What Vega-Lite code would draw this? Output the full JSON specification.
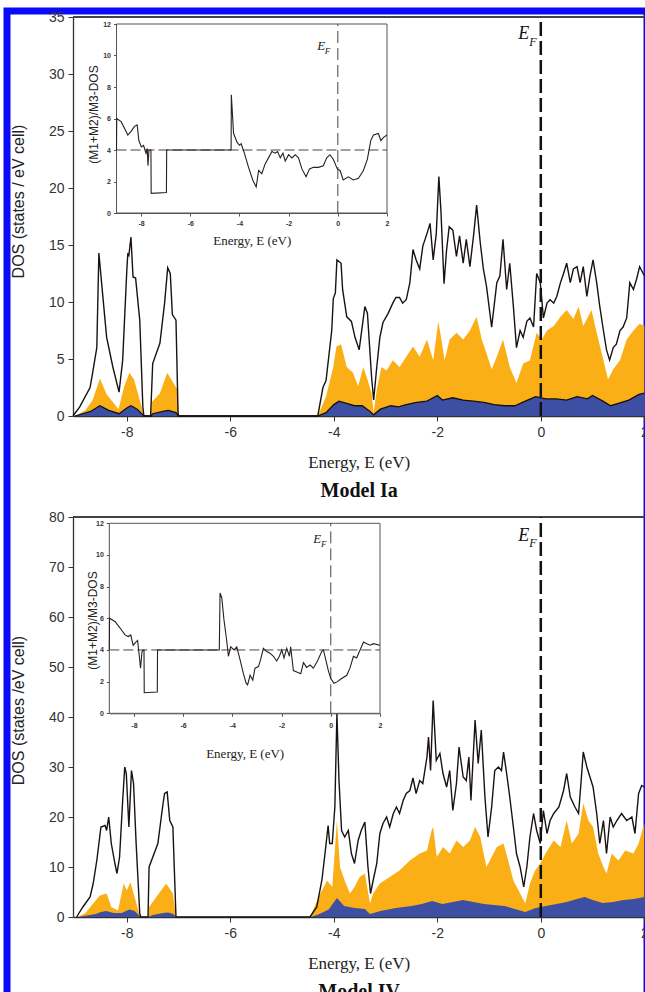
{
"$schema": "https://vega.github.io/schema/vega-lite/v6.json",
"width": 640, "height": 985,
"autosize": {"type": "none"},
"padding": {"left": 7, "top": 11, "right": -2, "bottom": -4},
"background": "white",
"config": {"view": {"stroke": "#0a0af5", "strokeWidth": 7}, "axis": {"grid": false, "domainColor": "#333", "tickColor": "#333", "labelColor": "#333", "titleColor": "#222", "labelFlush": false, "format": "d", "labelExpr": "replace(datum.label, '−', '-')"}},
"datasets": {
"topTot": [{"E":-9.04,"v":0},{"E":-8.91,"v":0.8},{"E":-8.71,"v":2.5},{"E":-8.66,"v":3.8},{"E":-8.58,"v":6.0},{"E":-8.54,"v":14.3},{"E":-8.48,"v":11.3},{"E":-8.39,"v":6.9},{"E":-8.27,"v":4.3},{"E":-8.15,"v":2.1},{"E":-8.08,"v":4.9},{"E":-8.0,"v":12.8},{"E":-7.98,"v":14.3},{"E":-7.96,"v":14.1},{"E":-7.92,"v":15.7},{"E":-7.88,"v":12.2},{"E":-7.83,"v":12.1},{"E":-7.75,"v":8.4},{"E":-7.69,"v":0.8},{"E":-7.67,"v":0},{"E":-7.54,"v":0},{"E":-7.5,"v":4.6},{"E":-7.36,"v":6.4},{"E":-7.27,"v":9.9},{"E":-7.21,"v":13.0},{"E":-7.16,"v":12.5},{"E":-7.12,"v":8.9},{"E":-7.05,"v":8.4},{"E":-7.01,"v":0.3},{"E":-7.0,"v":0},{"E":-4.31,"v":0},{"E":-4.21,"v":2.5},{"E":-4.15,"v":3.1},{"E":-4.04,"v":7.5},{"E":-4.01,"v":10.3},{"E":-3.97,"v":10.8},{"E":-3.94,"v":13.7},{"E":-3.86,"v":13.4},{"E":-3.83,"v":11.1},{"E":-3.75,"v":8.7},{"E":-3.66,"v":8.3},{"E":-3.59,"v":6.9},{"E":-3.51,"v":5.8},{"E":-3.4,"v":9.6},{"E":-3.35,"v":9.0},{"E":-3.27,"v":3.4},{"E":-3.23,"v":1.4},{"E":-3.17,"v":4.3},{"E":-3.11,"v":6.9},{"E":-3.05,"v":8.2},{"E":-2.95,"v":9.0},{"E":-2.86,"v":9.9},{"E":-2.8,"v":10.4},{"E":-2.73,"v":10.4},{"E":-2.67,"v":9.9},{"E":-2.6,"v":10.2},{"E":-2.53,"v":11.7},{"E":-2.47,"v":14.6},{"E":-2.41,"v":13.7},{"E":-2.34,"v":12.9},{"E":-2.28,"v":14.9},{"E":-2.2,"v":16.0},{"E":-2.14,"v":16.9},{"E":-2.08,"v":13.7},{"E":-2.02,"v":16.0},{"E":-1.97,"v":21.0},{"E":-1.93,"v":18.0},{"E":-1.87,"v":11.6},{"E":-1.82,"v":14.6},{"E":-1.77,"v":16.6},{"E":-1.7,"v":16.3},{"E":-1.63,"v":14.0},{"E":-1.57,"v":15.8},{"E":-1.5,"v":13.4},{"E":-1.44,"v":15.5},{"E":-1.37,"v":13.1},{"E":-1.3,"v":15.8},{"E":-1.24,"v":18.5},{"E":-1.17,"v":15.2},{"E":-1.11,"v":12.9},{"E":-1.05,"v":11.4},{"E":-0.95,"v":7.8},{"E":-0.85,"v":11.7},{"E":-0.79,"v":12.3},{"E":-0.73,"v":15.5},{"E":-0.66,"v":11.1},{"E":-0.6,"v":13.4},{"E":-0.53,"v":9.6},{"E":-0.47,"v":6.0},{"E":-0.4,"v":7.5},{"E":-0.34,"v":6.9},{"E":-0.27,"v":8.3},{"E":-0.21,"v":8.6},{"E":-0.14,"v":7.8},{"E":-0.08,"v":12.5},{"E":-0.01,"v":11.7},{"E":0.05,"v":8.6},{"E":0.12,"v":9.9},{"E":0.18,"v":10.2},{"E":0.25,"v":9.9},{"E":0.31,"v":10.5},{"E":0.38,"v":11.7},{"E":0.44,"v":12.5},{"E":0.5,"v":13.4},{"E":0.57,"v":11.7},{"E":0.63,"v":12.9},{"E":0.7,"v":13.1},{"E":0.76,"v":11.7},{"E":0.82,"v":13.1},{"E":0.89,"v":10.5},{"E":0.95,"v":12.3},{"E":1.01,"v":13.7},{"E":1.08,"v":11.7},{"E":1.14,"v":9.6},{"E":1.21,"v":7.5},{"E":1.27,"v":5.8},{"E":1.33,"v":4.9},{"E":1.4,"v":6.0},{"E":1.46,"v":6.3},{"E":1.53,"v":7.5},{"E":1.59,"v":7.8},{"E":1.66,"v":8.6},{"E":1.72,"v":11.7},{"E":1.79,"v":11.1},{"E":1.85,"v":12.0},{"E":1.91,"v":13.1},{"E":2.0,"v":12.3}],
"topOrg": [{"E":-9.0,"v":0},{"E":-8.8,"v":0.5},{"E":-8.66,"v":1.4},{"E":-8.52,"v":3.3},{"E":-8.39,"v":1.9},{"E":-8.16,"v":0.6},{"E":-8.05,"v":2.6},{"E":-7.95,"v":3.8},{"E":-7.86,"v":3.2},{"E":-7.72,"v":0.9},{"E":-7.67,"v":0},{"E":-7.54,"v":0},{"E":-7.52,"v":1.2},{"E":-7.36,"v":2.0},{"E":-7.22,"v":3.8},{"E":-7.1,"v":2.9},{"E":-7.02,"v":2.3},{"E":-7.0,"v":0},{"E":-4.31,"v":0},{"E":-4.15,"v":1.7},{"E":-4.01,"v":4.3},{"E":-3.95,"v":6.1},{"E":-3.86,"v":6.3},{"E":-3.75,"v":4.3},{"E":-3.63,"v":3.8},{"E":-3.53,"v":2.6},{"E":-3.43,"v":4.3},{"E":-3.37,"v":3.5},{"E":-3.27,"v":2.0},{"E":-3.23,"v":0.3},{"E":-3.17,"v":2.3},{"E":-3.08,"v":4.3},{"E":-2.98,"v":4.0},{"E":-2.86,"v":4.9},{"E":-2.73,"v":4.3},{"E":-2.6,"v":5.2},{"E":-2.47,"v":6.1},{"E":-2.34,"v":5.2},{"E":-2.2,"v":6.7},{"E":-2.08,"v":4.9},{"E":-1.98,"v":8.3},{"E":-1.92,"v":6.7},{"E":-1.86,"v":4.9},{"E":-1.76,"v":6.7},{"E":-1.63,"v":7.3},{"E":-1.5,"v":6.7},{"E":-1.37,"v":7.5},{"E":-1.24,"v":8.7},{"E":-1.14,"v":6.7},{"E":-1.05,"v":5.5},{"E":-0.95,"v":4.1},{"E":-0.85,"v":5.2},{"E":-0.73,"v":6.7},{"E":-0.6,"v":4.3},{"E":-0.47,"v":2.9},{"E":-0.34,"v":4.6},{"E":-0.21,"v":4.9},{"E":-0.08,"v":7.3},{"E":0.02,"v":6.7},{"E":0.12,"v":7.5},{"E":0.25,"v":7.9},{"E":0.38,"v":8.7},{"E":0.5,"v":9.3},{"E":0.63,"v":8.5},{"E":0.73,"v":9.6},{"E":0.82,"v":7.9},{"E":0.98,"v":9.3},{"E":1.08,"v":7.3},{"E":1.21,"v":4.9},{"E":1.3,"v":3.2},{"E":1.4,"v":4.1},{"E":1.53,"v":4.9},{"E":1.66,"v":6.7},{"E":1.79,"v":7.5},{"E":1.91,"v":8.1},{"E":2.0,"v":7.9}],
"topBlu": [{"E":-9.0,"v":0},{"E":-8.7,"v":0.4},{"E":-8.52,"v":0.9},{"E":-8.35,"v":0.5},{"E":-8.15,"v":0.2},{"E":-8.0,"v":0.7},{"E":-7.92,"v":0.9},{"E":-7.8,"v":0.6},{"E":-7.69,"v":0.1},{"E":-7.67,"v":0},{"E":-7.54,"v":0},{"E":-7.5,"v":0.2},{"E":-7.3,"v":0.4},{"E":-7.2,"v":0.5},{"E":-7.05,"v":0.3},{"E":-7.0,"v":0},{"E":-4.31,"v":0},{"E":-4.15,"v":0.3},{"E":-4.0,"v":1.0},{"E":-3.9,"v":1.3},{"E":-3.75,"v":1.1},{"E":-3.6,"v":0.9},{"E":-3.45,"v":0.9},{"E":-3.3,"v":0.4},{"E":-3.23,"v":0.1},{"E":-3.1,"v":0.6},{"E":-2.9,"v":0.9},{"E":-2.75,"v":0.8},{"E":-2.6,"v":1.0},{"E":-2.4,"v":1.2},{"E":-2.2,"v":1.3},{"E":-2.0,"v":1.8},{"E":-1.9,"v":1.4},{"E":-1.7,"v":1.6},{"E":-1.5,"v":1.4},{"E":-1.3,"v":1.3},{"E":-1.1,"v":1.2},{"E":-0.9,"v":1.0},{"E":-0.7,"v":0.9},{"E":-0.5,"v":0.9},{"E":-0.3,"v":1.3},{"E":-0.1,"v":1.7},{"E":0.1,"v":1.5},{"E":0.3,"v":1.5},{"E":0.5,"v":1.4},{"E":0.7,"v":1.7},{"E":0.9,"v":1.5},{"E":1.0,"v":1.8},{"E":1.2,"v":1.3},{"E":1.35,"v":0.9},{"E":1.5,"v":1.1},{"E":1.7,"v":1.4},{"E":1.9,"v":1.9},{"E":2.0,"v":2.0}],
"topRatio": [{"E":-9,"v":4},{"E":-8.99,"v":6.0},{"E":-8.81,"v":5.8},{"E":-8.54,"v":4.95},{"E":-8.4,"v":5.2},{"E":-8.27,"v":5.5},{"E":-8.16,"v":5.6},{"E":-8.09,"v":4.6},{"E":-7.99,"v":4.2},{"E":-7.9,"v":4.3},{"E":-7.8,"v":3.8},{"E":-7.75,"v":4.1},{"E":-7.72,"v":3.0},{"E":-7.68,"v":4.0},{"E":-7.6,"v":4.0},{"E":-7.59,"v":1.25},{"E":-6.97,"v":1.3},{"E":-6.96,"v":4},{"E":-4.34,"v":4},{"E":-4.33,"v":7.5},{"E":-4.24,"v":5.06},{"E":-4.1,"v":4.5},{"E":-4.0,"v":4.3},{"E":-3.93,"v":4.4},{"E":-3.8,"v":3.8},{"E":-3.63,"v":2.9},{"E":-3.46,"v":2.1},{"E":-3.32,"v":1.65},{"E":-3.22,"v":2.7},{"E":-3.09,"v":2.5},{"E":-2.96,"v":3.1},{"E":-2.82,"v":3.5},{"E":-2.68,"v":3.9},{"E":-2.55,"v":3.8},{"E":-2.45,"v":3.9},{"E":-2.34,"v":3.5},{"E":-2.23,"v":3.8},{"E":-2.14,"v":3.3},{"E":-2.0,"v":3.7},{"E":-1.87,"v":3.5},{"E":-1.73,"v":3.7},{"E":-1.6,"v":3.5},{"E":-1.46,"v":2.8},{"E":-1.29,"v":2.3},{"E":-1.15,"v":2.8},{"E":-0.99,"v":2.9},{"E":-0.79,"v":2.9},{"E":-0.59,"v":3.0},{"E":-0.45,"v":3.5},{"E":-0.32,"v":3.7},{"E":-0.18,"v":3.4},{"E":-0.02,"v":2.8},{"E":0.09,"v":2.7},{"E":0.22,"v":2.1},{"E":0.43,"v":2.3},{"E":0.63,"v":2.1},{"E":0.84,"v":2.2},{"E":1.04,"v":2.7},{"E":1.2,"v":3.4},{"E":1.34,"v":4.6},{"E":1.45,"v":4.95},{"E":1.65,"v":5.05},{"E":1.75,"v":4.6},{"E":1.86,"v":4.8},{"E":2.0,"v":4.95}],
"botTot": [{"E":-8.97,"v":0},{"E":-8.85,"v":2},{"E":-8.71,"v":4},{"E":-8.65,"v":6.7},{"E":-8.58,"v":11.3},{"E":-8.5,"v":18},{"E":-8.42,"v":18.3},{"E":-8.39,"v":17.3},{"E":-8.35,"v":20},{"E":-8.3,"v":14.7},{"E":-8.23,"v":10.7},{"E":-8.19,"v":8.7},{"E":-8.14,"v":12},{"E":-8.08,"v":23.3},{"E":-8.04,"v":30},{"E":-8.01,"v":28.7},{"E":-7.96,"v":18},{"E":-7.91,"v":29.3},{"E":-7.87,"v":26.7},{"E":-7.82,"v":14.7},{"E":-7.75,"v":0.7},{"E":-7.73,"v":0},{"E":-7.59,"v":0},{"E":-7.57,"v":10},{"E":-7.4,"v":14.7},{"E":-7.3,"v":22.7},{"E":-7.27,"v":24.7},{"E":-7.22,"v":25},{"E":-7.17,"v":19.3},{"E":-7.11,"v":18},{"E":-7.05,"v":0},{"E":-4.46,"v":0},{"E":-4.33,"v":2},{"E":-4.23,"v":7.4},{"E":-4.17,"v":12.7},{"E":-4.11,"v":18.3},{"E":-4.08,"v":14.7},{"E":-4.03,"v":14.7},{"E":-3.98,"v":22},{"E":-3.94,"v":40.7},{"E":-3.9,"v":27.3},{"E":-3.85,"v":17.3},{"E":-3.79,"v":16.0},{"E":-3.72,"v":17.3},{"E":-3.66,"v":12.7},{"E":-3.6,"v":10.7},{"E":-3.53,"v":15.3},{"E":-3.47,"v":17.3},{"E":-3.4,"v":19.0},{"E":-3.34,"v":10},{"E":-3.29,"v":4.7},{"E":-3.24,"v":7.3},{"E":-3.17,"v":10.7},{"E":-3.11,"v":16.7},{"E":-3.05,"v":18.7},{"E":-2.98,"v":20},{"E":-2.92,"v":18},{"E":-2.85,"v":20.7},{"E":-2.79,"v":22},{"E":-2.73,"v":20.7},{"E":-2.66,"v":23.3},{"E":-2.6,"v":24.7},{"E":-2.53,"v":25.3},{"E":-2.47,"v":27.8},{"E":-2.41,"v":24.7},{"E":-2.34,"v":27.3},{"E":-2.28,"v":26.7},{"E":-2.2,"v":32},{"E":-2.17,"v":36},{"E":-2.13,"v":29.3},{"E":-2.08,"v":43.3},{"E":-2.02,"v":31.3},{"E":-1.95,"v":32.7},{"E":-1.89,"v":28.7},{"E":-1.82,"v":26},{"E":-1.76,"v":29.3},{"E":-1.7,"v":21.3},{"E":-1.63,"v":26.7},{"E":-1.58,"v":34},{"E":-1.5,"v":28},{"E":-1.44,"v":27.3},{"E":-1.39,"v":32},{"E":-1.35,"v":23.3},{"E":-1.27,"v":39.4},{"E":-1.21,"v":30.7},{"E":-1.15,"v":37.4},{"E":-1.08,"v":24},{"E":-1.02,"v":16},{"E":-0.95,"v":22},{"E":-0.89,"v":29.3},{"E":-0.82,"v":30},{"E":-0.76,"v":29.3},{"E":-0.72,"v":33},{"E":-0.66,"v":28.7},{"E":-0.6,"v":24},{"E":-0.53,"v":18},{"E":-0.47,"v":12.7},{"E":-0.4,"v":10},{"E":-0.33,"v":6},{"E":-0.27,"v":10},{"E":-0.21,"v":16},{"E":-0.14,"v":20.7},{"E":-0.08,"v":17.3},{"E":-0.01,"v":14.7},{"E":0.05,"v":21.3},{"E":0.12,"v":16.7},{"E":0.18,"v":19.3},{"E":0.25,"v":20.7},{"E":0.35,"v":22},{"E":0.44,"v":25.3},{"E":0.5,"v":28.7},{"E":0.57,"v":24},{"E":0.66,"v":22},{"E":0.73,"v":20.7},{"E":0.78,"v":27.3},{"E":0.82,"v":33},{"E":0.89,"v":30},{"E":0.95,"v":28},{"E":1.01,"v":26},{"E":1.08,"v":20.7},{"E":1.14,"v":14.7},{"E":1.21,"v":19.3},{"E":1.27,"v":12.7},{"E":1.34,"v":20},{"E":1.4,"v":18},{"E":1.47,"v":19.3},{"E":1.56,"v":20.7},{"E":1.66,"v":19.3},{"E":1.76,"v":20},{"E":1.82,"v":16.7},{"E":1.89,"v":24.7},{"E":1.95,"v":26.3},{"E":2.0,"v":26}],
"botOrg": [{"E":-8.95,"v":0},{"E":-8.8,"v":0.8},{"E":-8.65,"v":2.7},{"E":-8.52,"v":4.3},{"E":-8.39,"v":4.7},{"E":-8.3,"v":2},{"E":-8.17,"v":1.3},{"E":-8.06,"v":6.7},{"E":-8.0,"v":5.3},{"E":-7.93,"v":7.0},{"E":-7.85,"v":4},{"E":-7.75,"v":0.3},{"E":-7.73,"v":0},{"E":-7.59,"v":0},{"E":-7.57,"v":2},{"E":-7.43,"v":4},{"E":-7.24,"v":6.7},{"E":-7.11,"v":4.7},{"E":-7.05,"v":0},{"E":-4.46,"v":0},{"E":-4.26,"v":4.7},{"E":-4.13,"v":7.3},{"E":-4.03,"v":6},{"E":-3.94,"v":19.3},{"E":-3.88,"v":10},{"E":-3.79,"v":7.3},{"E":-3.69,"v":4.7},{"E":-3.6,"v":6},{"E":-3.5,"v":8},{"E":-3.4,"v":8.7},{"E":-3.3,"v":2.7},{"E":-3.24,"v":4.7},{"E":-3.11,"v":6.7},{"E":-2.92,"v":8},{"E":-2.73,"v":9.3},{"E":-2.53,"v":11.3},{"E":-2.34,"v":12.7},{"E":-2.2,"v":13.3},{"E":-2.11,"v":17.3},{"E":-2.08,"v":18},{"E":-2.01,"v":12},{"E":-1.89,"v":14},{"E":-1.76,"v":12.7},{"E":-1.63,"v":15.3},{"E":-1.5,"v":14},{"E":-1.37,"v":15.3},{"E":-1.27,"v":18},{"E":-1.17,"v":16},{"E":-1.05,"v":10},{"E":-0.95,"v":12},{"E":-0.85,"v":14},{"E":-0.72,"v":14.7},{"E":-0.63,"v":11.3},{"E":-0.53,"v":7.3},{"E":-0.4,"v":4.7},{"E":-0.3,"v":2.7},{"E":-0.21,"v":6.7},{"E":-0.11,"v":9.3},{"E":-0.01,"v":10.7},{"E":0.09,"v":12.7},{"E":0.25,"v":15.3},{"E":0.38,"v":14},{"E":0.5,"v":19.3},{"E":0.6,"v":14.7},{"E":0.73,"v":16.7},{"E":0.82,"v":22.7},{"E":0.92,"v":19.3},{"E":1.01,"v":18},{"E":1.11,"v":12.7},{"E":1.21,"v":10},{"E":1.27,"v":8.7},{"E":1.37,"v":12.7},{"E":1.5,"v":11.3},{"E":1.63,"v":13.3},{"E":1.79,"v":12.7},{"E":1.89,"v":14.7},{"E":2.0,"v":18.7}],
"botBlu": [{"E":-8.95,"v":0},{"E":-8.6,"v":0.6},{"E":-8.5,"v":1.0},{"E":-8.4,"v":1.2},{"E":-8.25,"v":0.8},{"E":-8.1,"v":0.8},{"E":-7.95,"v":1.5},{"E":-7.85,"v":1.2},{"E":-7.75,"v":0.2},{"E":-7.73,"v":0},{"E":-7.59,"v":0},{"E":-7.5,"v":0.4},{"E":-7.3,"v":0.8},{"E":-7.2,"v":0.9},{"E":-7.1,"v":0.6},{"E":-7.05,"v":0},{"E":-4.46,"v":0},{"E":-4.3,"v":0.5},{"E":-4.1,"v":1.5},{"E":-3.94,"v":3.8},{"E":-3.8,"v":2.2},{"E":-3.6,"v":1.8},{"E":-3.4,"v":1.6},{"E":-3.3,"v":0.6},{"E":-3.1,"v":1.2},{"E":-2.8,"v":1.8},{"E":-2.5,"v":2.2},{"E":-2.3,"v":2.6},{"E":-2.1,"v":3.2},{"E":-1.9,"v":2.6},{"E":-1.7,"v":3.0},{"E":-1.5,"v":3.4},{"E":-1.3,"v":3.0},{"E":-1.1,"v":2.6},{"E":-0.9,"v":2.4},{"E":-0.7,"v":2.2},{"E":-0.5,"v":1.6},{"E":-0.3,"v":1.0},{"E":-0.1,"v":1.8},{"E":0.1,"v":2.2},{"E":0.3,"v":2.6},{"E":0.5,"v":3.0},{"E":0.7,"v":3.6},{"E":0.85,"v":4.0},{"E":1.0,"v":3.4},{"E":1.2,"v":2.8},{"E":1.4,"v":3.0},{"E":1.6,"v":3.4},{"E":1.8,"v":3.6},{"E":2.0,"v":4.0}],
"botRatio": [{"E":-9,"v":4},{"E":-8.99,"v":6.0},{"E":-8.77,"v":5.8},{"E":-8.57,"v":5.4},{"E":-8.36,"v":4.95},{"E":-8.23,"v":4.85},{"E":-8.13,"v":4.95},{"E":-8.03,"v":4.3},{"E":-7.92,"v":4.5},{"E":-7.85,"v":4.6},{"E":-7.78,"v":3.6},{"E":-7.73,"v":2.85},{"E":-7.67,"v":3.9},{"E":-7.62,"v":4.0},{"E":-7.59,"v":4.0},{"E":-7.58,"v":1.3},{"E":-7.05,"v":1.35},{"E":-7.04,"v":4},{"E":-4.53,"v":4},{"E":-4.5,"v":7.6},{"E":-4.43,"v":7.3},{"E":-4.34,"v":5.9},{"E":-4.23,"v":4.6},{"E":-4.16,"v":3.6},{"E":-4.07,"v":4.2},{"E":-3.93,"v":4.0},{"E":-3.82,"v":4.2},{"E":-3.69,"v":3.4},{"E":-3.55,"v":2.5},{"E":-3.44,"v":1.9},{"E":-3.38,"v":1.8},{"E":-3.28,"v":2.4},{"E":-3.17,"v":2.1},{"E":-3.08,"v":2.85},{"E":-2.94,"v":2.95},{"E":-2.85,"v":3.4},{"E":-2.74,"v":4.1},{"E":-2.6,"v":3.9},{"E":-2.47,"v":3.8},{"E":-2.33,"v":3.6},{"E":-2.2,"v":3.3},{"E":-2.09,"v":3.6},{"E":-1.99,"v":4.0},{"E":-1.9,"v":3.5},{"E":-1.79,"v":4.1},{"E":-1.68,"v":3.6},{"E":-1.63,"v":4.2},{"E":-1.52,"v":2.7},{"E":-1.36,"v":2.6},{"E":-1.22,"v":2.5},{"E":-1.11,"v":3.2},{"E":-0.98,"v":2.9},{"E":-0.84,"v":3.05},{"E":-0.71,"v":2.85},{"E":-0.54,"v":3.3},{"E":-0.37,"v":3.9},{"E":-0.3,"v":4.0},{"E":-0.19,"v":3.3},{"E":-0.1,"v":2.7},{"E":0.0,"v":2.2},{"E":0.13,"v":1.9},{"E":0.27,"v":2.0},{"E":0.44,"v":2.2},{"E":0.65,"v":2.4},{"E":0.78,"v":2.85},{"E":0.92,"v":3.6},{"E":1.05,"v":3.5},{"E":1.19,"v":4.0},{"E":1.33,"v":4.5},{"E":1.46,"v":4.4},{"E":1.6,"v":4.3},{"E":1.73,"v":4.4},{"E":2.0,"v":4.3}]
},
"layer": [
{"layer": [
 {"data": {"name": "topOrg"}, "mark": {"type": "area", "color": "#FBAF17", "opacity": 1},
  "encoding": {"x": {"field": "E", "type": "quantitative", "scale": {"domain": [-9.04, 2], "range": [66, 637.3], "nice": false, "zero": false},
    "axis": {"orient": "bottom", "offset": -580, "values": [-8,-6,-4,-2,0,2], "labelFont": "Liberation Sans", "labelFontSize": 14, "labelPadding": 4, "tickSize": 5, "domainWidth": 1.3, "title": "Energy, E (eV)", "titleFont": "Liberation Serif", "titleFontSize": 17, "titleFontWeight": "normal", "titleY": 46, "titleBaseline": "middle"}},
   "y": {"field": "v", "type": "quantitative", "scale": {"domain": [0, 35], "range": [405, 6], "nice": false},
    "axis": {"orient": "left", "offset": -66, "values": [0,5,10,15,20,25,30,35], "labelFont": "Liberation Sans", "labelFontSize": 14, "labelPadding": 4, "tickSize": 5, "domainWidth": 1.3, "title": "DOS (states / eV cell)", "titleFont": "Liberation Sans", "titleFontSize": 16, "titleFontWeight": "normal", "titleX": -55, "titleY": 190, "titleBaseline": "middle", "titleAngle": -90}}}},
 {"data": {"name": "topBlu"}, "mark": {"type": "area", "color": "#3D4FA3", "opacity": 1, "fillOpacity": 1, "line": {"color": "#111", "strokeWidth": 1.3}},
  "encoding": {"x": {"field": "E", "type": "quantitative"}, "y": {"field": "v", "type": "quantitative"}}},
 {"data": {"name": "topTot"}, "mark": {"type": "line", "color": "#1a1212", "strokeWidth": 1.4},
  "encoding": {"x": {"field": "E", "type": "quantitative"}, "y": {"field": "v", "type": "quantitative"}}},
 {"data": {"values": [{}]}, "mark": {"type": "rule", "color": "#444", "strokeWidth": 2},
  "encoding": {"x": {"datum": -9.04, "type": "quantitative"}, "x2": {"datum": 2}, "y": {"datum": 35, "type": "quantitative"}}}
]},
{"data": {"values": [{}]}, "layer": [
 {"mark": {"type": "rule", "color": "#111", "strokeWidth": 2.5, "strokeDash": [14, 5]},
  "encoding": {"x": {"datum": 0, "type": "quantitative", "scale": {"domain": [-9.04, 2], "range": [66, 637.3], "nice": false, "zero": false},
    "axis": {"orient": "bottom", "offset": -580, "domain": false, "ticks": false, "labels": false, "title": "Model Ia", "titleFont": "Liberation Serif", "titleFontSize": 20, "titleFontWeight": "bold", "titleColor": "#111", "titleY": 74, "titleBaseline": "middle"}},
   "y": {"datum": 0, "type": "quantitative", "scale": {"domain": [0, 35], "range": [405, 6], "nice": false}, "axis": null}, "y2": {"datum": 35}}},
 {"mark": {"type": "text", "text": "E", "font": "Liberation Serif", "fontStyle": "italic", "fontSize": 18, "align": "center", "baseline": "alphabetic", "color": "#111"},
  "encoding": {"x": {"datum": -0.33, "type": "quantitative"}, "y": {"datum": 33.1, "type": "quantitative"}}},
 {"mark": {"type": "text", "text": "F", "font": "Liberation Serif", "fontStyle": "italic", "fontSize": 12, "align": "center", "baseline": "alphabetic", "color": "#111"},
  "encoding": {"x": {"datum": -0.15, "type": "quantitative"}, "y": {"datum": 32.5, "type": "quantitative"}}}
]},
{"layer": [
 {"data": {"values": [{}]}, "mark": {"type": "rect", "fill": "white", "stroke": "#555", "strokeWidth": 1},
  "encoding": {"x": {"datum": -9, "type": "quantitative", "scale": {"domain": [-9, 2], "range": [109.5, 380], "nice": false, "zero": false},
    "axis": {"orient": "bottom", "offset": -783, "values": [-8,-6,-4,-2,0,2], "labelFont": "Liberation Sans", "labelFontSize": 7, "labelFontWeight": "bold", "labelPadding": 3, "tickSize": 3, "domainColor": "#555", "tickColor": "#555", "title": "Energy, E (eV)", "titleFont": "Liberation Serif", "titleFontSize": 13, "titleFontWeight": "normal", "titleY": 27, "titleBaseline": "middle"}},
   "x2": {"datum": 2},
   "y": {"datum": 0, "type": "quantitative", "scale": {"domain": [0, 12], "range": [202, 13], "nice": false},
    "axis": {"orient": "left", "offset": -109.5, "values": [0,2,4,6,8,10,12], "labelFont": "Liberation Sans", "labelFontSize": 7, "labelFontWeight": "bold", "labelPadding": 3, "tickSize": 3, "domainColor": "#555", "tickColor": "#555", "title": "(M1+M2)/M3-DOS", "titleFont": "Liberation Sans", "titleFontSize": 12, "titleFontWeight": "normal", "titleX": -23.5, "titleY": 103, "titleBaseline": "middle", "titleAngle": -90}},
   "y2": {"datum": 12}}},
 {"data": {"values": [{}]}, "mark": {"type": "rule", "color": "#444", "strokeWidth": 1, "strokeDash": [10, 4]},
  "encoding": {"x": {"datum": -9, "type": "quantitative"}, "x2": {"datum": 2}, "y": {"datum": 4, "type": "quantitative"}}},
 {"data": {"values": [{}]}, "mark": {"type": "rule", "color": "#444", "strokeWidth": 1, "strokeDash": [12, 5]},
  "encoding": {"x": {"datum": 0, "type": "quantitative"}, "y": {"datum": 0, "type": "quantitative"}, "y2": {"datum": 12}}},
 {"data": {"name": "topRatio"}, "mark": {"type": "line", "color": "#2a2020", "strokeWidth": 1.1},
  "encoding": {"x": {"field": "E", "type": "quantitative"}, "y": {"field": "v", "type": "quantitative"}}},
 {"data": {"values": [{}]}, "mark": {"type": "text", "text": "E", "font": "Liberation Serif", "fontStyle": "italic", "fontSize": 13, "align": "center", "baseline": "alphabetic", "color": "#222"},
  "encoding": {"x": {"datum": -0.68, "type": "quantitative"}, "y": {"datum": 10.35, "type": "quantitative"}}},
 {"data": {"values": [{}]}, "mark": {"type": "text", "text": "F", "font": "Liberation Serif", "fontStyle": "italic", "fontSize": 9, "align": "center", "baseline": "alphabetic", "color": "#222"},
  "encoding": {"x": {"datum": -0.42, "type": "quantitative"}, "y": {"datum": 10.1, "type": "quantitative"}}}
]},
{"layer": [
 {"data": {"name": "botOrg"}, "mark": {"type": "area", "color": "#FBAF17", "opacity": 1},
  "encoding": {"x": {"field": "E", "type": "quantitative", "scale": {"domain": [-9.04, 2], "range": [66, 637.3], "nice": false, "zero": false},
    "axis": {"orient": "bottom", "offset": -79, "values": [-8,-6,-4,-2,0,2], "labelFont": "Liberation Sans", "labelFontSize": 14, "labelPadding": 4, "tickSize": 5, "domainWidth": 1.3, "title": "Energy, E (eV)", "titleFont": "Liberation Serif", "titleFontSize": 17, "titleFontWeight": "normal", "titleY": 46, "titleBaseline": "middle"}},
   "y": {"field": "v", "type": "quantitative", "scale": {"domain": [0, 80], "range": [906, 506], "nice": false},
    "axis": {"orient": "left", "offset": -66, "values": [0,10,20,30,40,50,60,70,80], "labelFont": "Liberation Sans", "labelFontSize": 14, "labelPadding": 4, "tickSize": 5, "domainWidth": 1.3, "title": "DOS (states /eV cell)", "titleFont": "Liberation Sans", "titleFontSize": 16, "titleFontWeight": "normal", "titleX": -55, "titleY": 699, "titleBaseline": "middle", "titleAngle": -90}}}},
 {"data": {"name": "botBlu"}, "mark": {"type": "area", "color": "#3D4FA3", "opacity": 1},
  "encoding": {"x": {"field": "E", "type": "quantitative"}, "y": {"field": "v", "type": "quantitative"}}},
 {"data": {"name": "botTot"}, "mark": {"type": "line", "color": "#1a1212", "strokeWidth": 1.4},
  "encoding": {"x": {"field": "E", "type": "quantitative"}, "y": {"field": "v", "type": "quantitative"}}},
 {"data": {"values": [{}]}, "mark": {"type": "rule", "color": "#444", "strokeWidth": 2},
  "encoding": {"x": {"datum": -9.04, "type": "quantitative"}, "x2": {"datum": 2}, "y": {"datum": 80, "type": "quantitative"}}}
]},
{"data": {"values": [{}]}, "layer": [
 {"mark": {"type": "rule", "color": "#111", "strokeWidth": 2.5, "strokeDash": [14, 5]},
  "encoding": {"x": {"datum": 0, "type": "quantitative", "scale": {"domain": [-9.04, 2], "range": [66, 637.3], "nice": false, "zero": false},
    "axis": {"orient": "bottom", "offset": -79, "domain": false, "ticks": false, "labels": false, "title": "Model IV", "titleFont": "Liberation Serif", "titleFontSize": 20, "titleFontWeight": "bold", "titleColor": "#111", "titleY": 74, "titleBaseline": "middle"}},
   "y": {"datum": 0, "type": "quantitative", "scale": {"domain": [0, 80], "range": [906, 506], "nice": false}, "axis": null}, "y2": {"datum": 80}}},
 {"mark": {"type": "text", "text": "E", "font": "Liberation Serif", "fontStyle": "italic", "fontSize": 18, "align": "center", "baseline": "alphabetic", "color": "#111"},
  "encoding": {"x": {"datum": -0.33, "type": "quantitative"}, "y": {"datum": 75.2, "type": "quantitative"}}},
 {"mark": {"type": "text", "text": "F", "font": "Liberation Serif", "fontStyle": "italic", "fontSize": 12, "align": "center", "baseline": "alphabetic", "color": "#111"},
  "encoding": {"x": {"datum": -0.15, "type": "quantitative"}, "y": {"datum": 74.0, "type": "quantitative"}}}
]},
{"layer": [
 {"data": {"values": [{}]}, "mark": {"type": "rect", "fill": "white", "stroke": "#555", "strokeWidth": 1},
  "encoding": {"x": {"datum": -9, "type": "quantitative", "scale": {"domain": [-9, 2], "range": [102.3, 373], "nice": false, "zero": false},
    "axis": {"orient": "bottom", "offset": -282.7, "values": [-8,-6,-4,-2,0,2], "labelFont": "Liberation Sans", "labelFontSize": 7, "labelFontWeight": "bold", "labelPadding": 5, "tickSize": 3, "domainColor": "#555", "tickColor": "#555", "title": "Energy, E (eV)", "titleFont": "Liberation Serif", "titleFontSize": 13, "titleFontWeight": "normal", "titleY": 40, "titleBaseline": "middle"}},
   "x2": {"datum": 2},
   "y": {"datum": 0, "type": "quantitative", "scale": {"domain": [0, 12], "range": [702.3, 512.3], "nice": false},
    "axis": {"orient": "left", "offset": -102.3, "values": [0,2,4,6,8,10,12], "labelFont": "Liberation Sans", "labelFontSize": 7, "labelFontWeight": "bold", "labelPadding": 3, "tickSize": 3, "domainColor": "#555", "tickColor": "#555", "title": "(M1+M2)/M3-DOS", "titleFont": "Liberation Sans", "titleFontSize": 12, "titleFontWeight": "normal", "titleX": -17.3, "titleY": 609, "titleBaseline": "middle", "titleAngle": -90}},
   "y2": {"datum": 12}}},
 {"data": {"values": [{}]}, "mark": {"type": "rule", "color": "#444", "strokeWidth": 1, "strokeDash": [10, 4]},
  "encoding": {"x": {"datum": -9, "type": "quantitative"}, "x2": {"datum": 2}, "y": {"datum": 4, "type": "quantitative"}}},
 {"data": {"values": [{}]}, "mark": {"type": "rule", "color": "#444", "strokeWidth": 1, "strokeDash": [12, 5]},
  "encoding": {"x": {"datum": 0, "type": "quantitative"}, "y": {"datum": 0, "type": "quantitative"}, "y2": {"datum": 12}}},
 {"data": {"name": "botRatio"}, "mark": {"type": "line", "color": "#2a2020", "strokeWidth": 1.1},
  "encoding": {"x": {"field": "E", "type": "quantitative"}, "y": {"field": "v", "type": "quantitative"}}},
 {"data": {"values": [{}]}, "mark": {"type": "text", "text": "E", "font": "Liberation Serif", "fontStyle": "italic", "fontSize": 13, "align": "center", "baseline": "alphabetic", "color": "#222"},
  "encoding": {"x": {"datum": -0.55, "type": "quantitative"}, "y": {"datum": 10.76, "type": "quantitative"}}},
 {"data": {"values": [{}]}, "mark": {"type": "text", "text": "F", "font": "Liberation Serif", "fontStyle": "italic", "fontSize": 9, "align": "center", "baseline": "alphabetic", "color": "#222"},
  "encoding": {"x": {"datum": -0.29, "type": "quantitative"}, "y": {"datum": 10.5, "type": "quantitative"}}}
]}
],
"resolve": {"scale": {"x": "independent", "y": "independent"}, "axis": {"x": "independent", "y": "independent"}}
}
